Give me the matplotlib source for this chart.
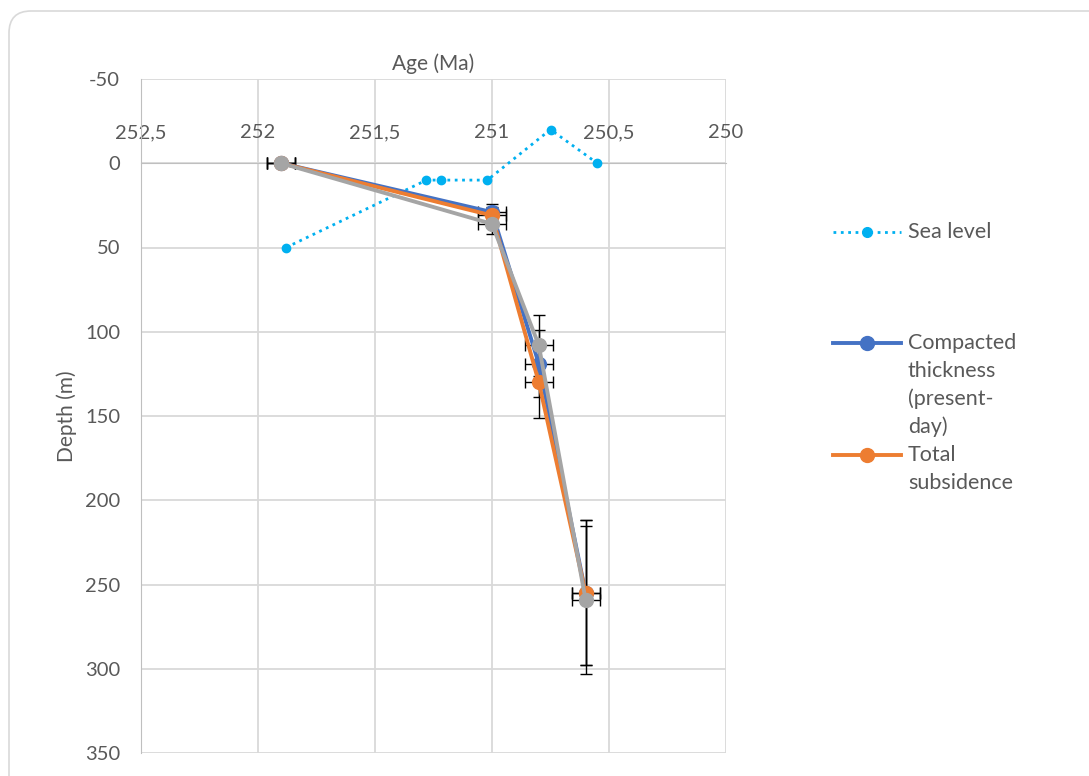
import numpy as np
import matplotlib
matplotlib.use("Agg")
import matplotlib.pyplot as plt
from matplotlib.patches import FancyBboxPatch
from matplotlib.lines import Line2D

plt.rcParams['font.family'] = ['Lato', 'DejaVu Sans']
plt.rcParams['axes.unicode_minus'] = False

# data
sea_age = [251.88, 251.28, 251.22, 251.02, 250.75, 250.55]
sea_depth = [50, 10, 10, 10, -20, 0]

age = [251.9, 251.0, 250.8, 250.6]
age_err = [0.06, 0.06, 0.06, 0.06]
compacted = [0, 29, 119, 255]
compacted_err = [0, 5, 20, 43]
subsidence = [0, 31, 130, 255]
subsidence_err = [0, 5, 21, 43]
grey_series = [0, 36, 108, 259]
grey_err = [0, 6, 18, 44]

x_ticks = [252.5, 252, 251.5, 251, 250.5, 250]
x_labels = ['252,5', '252', '251,5', '251', '250,5', '250']
y_ticks = [-50, 0, 50, 100, 150, 200, 250, 300, 350]

txt = '#595959'
grid = '#d9d9d9'
tick_fs = 14.5
leg_fs = 15.5

fig = plt.figure(figsize=(10.89, 7.76), dpi=100)

# rounded chart frame
bg = fig.add_axes([0, 0, 1, 1])
bg.set_xlim(0, 1089)
bg.set_ylim(776, 0)
bg.axis('off')
bg.add_patch(FancyBboxPatch((9, 11), 1120, 820, boxstyle='round,pad=0,rounding_size=22',
                            fc='white', ec='#d9d9d9', lw=1.2))

ax = fig.add_axes([141/1089, 1-753/776, 585/1089, 674/776])
ax.set_facecolor('none')
ax.set_xlim(252.5, 250)
ax.set_ylim(350, -50)
ax.set_xticks(x_ticks)
ax.set_xticklabels(x_labels)
ax.set_yticks(y_ticks)
ax.xaxis.tick_top()
ax.spines['top'].set_position(('data', 0))
ax.spines['top'].set_color('#bfbfbf')
ax.spines['left'].set_color('#bfbfbf')
ax.spines['right'].set_visible(False)
ax.spines['bottom'].set_visible(False)
ax.tick_params(axis='x', length=0, pad=16, labelsize=tick_fs, labelcolor=txt)
ax.tick_params(axis='y', length=0, pad=15, labelsize=tick_fs, labelcolor=txt)
ax.grid(True, color=grid, lw=1.3)
ax.set_axisbelow(True)
ax.set_ylabel('Depth (m)', fontsize=15, color=txt, labelpad=6)
ax.text(0.5, 1.008, 'Age (Ma)', transform=ax.transAxes, ha='center', va='bottom',
        fontsize=15, color=txt)

ax.plot(sea_age, sea_depth, ls=':', color='#00b0f0', lw=2, marker='o', ms=6, zorder=3)
for vals, errs in [(compacted, compacted_err), (subsidence, subsidence_err), (grey_series, grey_err)]:
    ax.errorbar(age, vals, xerr=age_err, yerr=errs, fmt='none', ecolor='black',
                elinewidth=1, capsize=4.5, capthick=1, zorder=3.5)
ax.plot(age, compacted, color='#4472c4', lw=2.8, marker='o', ms=10, zorder=4)
ax.plot(age, subsidence, color='#ed7d31', lw=2.8, marker='o', ms=10, zorder=5)
ax.plot(age, grey_series, color='#a5a5a5', lw=2.8, marker='o', ms=10, zorder=6)

# legend (only three entries, laid out like the original)
def entry(y, color, ls, lw, ms):
    bg.add_line(Line2D([833, 901], [y, y], color=color, ls=ls, lw=lw))
    bg.plot([867], [y], marker='o', color=color, ms=ms)

entry(232, '#00b0f0', ':', 2, 7)
entry(343, '#4472c4', '-', 2.8, 10)
entry(455, '#ed7d31', '-', 2.8, 10)
bg.text(908, 232, 'Sea level', va='center', fontsize=leg_fs, color=txt)
for i, s in enumerate(['Compacted', 'thickness', '(present-', 'day)']):
    bg.text(908, 343 + 28 * i, s, va='center', fontsize=leg_fs, color=txt)
for i, s in enumerate(['Total', 'subsidence']):
    bg.text(908, 455 + 28 * i, s, va='center', fontsize=leg_fs, color=txt)

fig.savefig('out.png', dpi=100)
